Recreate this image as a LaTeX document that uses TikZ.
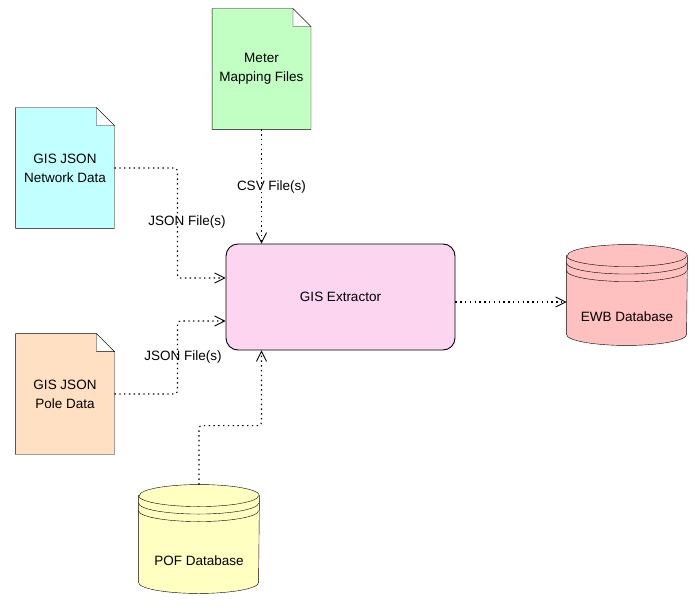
\documentclass[tikz,border=0pt]{standalone}
\usepackage{fontspec}
\setmainfont{Liberation Sans}
\usetikzlibrary{arrows.meta,backgrounds}

\definecolor{metergreen}{HTML}{C2FFC2}
\definecolor{netcyan}{HTML}{C2FFFF}
\definecolor{polepeach}{HTML}{FFE0C2}
\definecolor{extractpink}{HTML}{FCD6F0}
\definecolor{ewbred}{HTML}{FFC0C0}
\definecolor{pofyellow}{HTML}{FFFFC2}

% file with a folded corner, drawn behind node #1
\newcommand{\filebody}[2]{%
  \filldraw[fill=#2] (#1.north west) -- ([xshift=-18pt]#1.north east)
    -- ([yshift=-18pt]#1.north east) -- (#1.south east) -- (#1.south west) -- cycle;
  \filldraw[fill=white] ([xshift=-18pt]#1.north east) -- ([xshift=-18pt,yshift=-18pt]#1.north east)
    -- ([yshift=-18pt]#1.north east) -- cycle;
}
% database drum behind node #1
\newcommand{\dbbody}[2]{%
  \filldraw[fill=#2] ([yshift=-11pt]#1.north west) -- ([yshift=11pt]#1.south west)
    arc[start angle=180, end angle=360, x radius=60pt, y radius=11pt]
    -- ([yshift=-11pt]#1.north east)
    arc[start angle=0, end angle=180, x radius=60pt, y radius=11pt] -- cycle;
  \foreach \d in {0,7.5,15}
    \draw ([yshift=-11pt-\d pt]#1.north west) arc[start angle=180, end angle=360, x radius=60pt, y radius=11pt];
}

\begin{document}
\begin{tikzpicture}[
  x=1pt, y=-1pt, line width=0.9pt,
  font=\fontsize{13.5}{19}\selectfont,
  file/.style={inner sep=0pt, align=center, minimum width=98pt, minimum height=120pt},
  db/.style={inner sep=0pt, minimum width=120pt, text height=52pt, text depth=0pt},
  proc/.style={draw, fill=extractpink, rounded corners=12pt, minimum width=229pt, minimum height=106pt},
  flow/.style={line width=1.1pt, dash pattern=on 1.4pt off 3.4pt, rounded corners=3pt, -{Straight Barb[length=10pt,width=10pt,line width=0.9pt]}}
]
\useasboundingbox (0,0) rectangle (695,609);

\node[file] (meter) at (261.5,69) {Meter\\Mapping Files};
\node[file] (network) at (65,168) {GIS JSON\\Network Data};
\node[file] (pole) at (65,394) {GIS JSON\\Pole Data};
\node[proc] (extractor) at (340.5,297) {GIS Extractor};
\node[db, minimum height=100pt] (ewb) at (627,295) {EWB Database};
\node[db, minimum height=108pt] (pof) at (199,539) {POF Database};

\begin{scope}[on background layer]
  \filebody{meter}{metergreen}
  \filebody{network}{netcyan}
  \filebody{pole}{polepeach}
  \dbbody{ewb}{ewbred}
  \dbbody{pof}{pofyellow}
\end{scope}

\node (csvlbl) at (271.5,187) {CSV File(s)};
\node (netlbl) at (187,222) {JSON File(s)};
\node (polelbl) at (183,357) {JSON File(s)};

\draw[flow] (meter.south) -- (meter.south |- extractor.north);
\draw[flow] (network.east) -- ++(63,0) |- ([yshift=19pt]extractor.west);
\draw[flow] (pole.east) -- ++(63,0) |- ([yshift=-24pt]extractor.west);
\draw[flow] (pof.north) -- ++(0,-59) -| ([xshift=-79pt]extractor.south);
\draw[flow] ([yshift=-5pt]extractor.east) -- ([yshift=-5pt]extractor.east -| ewb.west);
\end{tikzpicture}
\end{document}
